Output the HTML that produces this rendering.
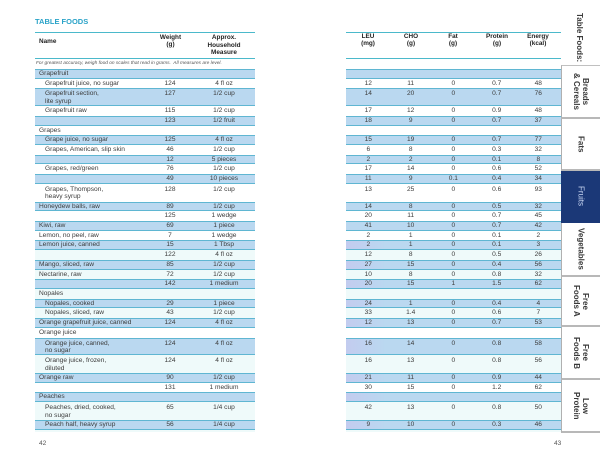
<!DOCTYPE html>
<html><head><meta charset="utf-8">
<style>
html,body{margin:0;padding:0;background:#fff;}
body{width:600px;height:461px;position:relative;overflow:hidden;font-family:"Liberation Sans",sans-serif;color:#3c3c3c;}
.a{position:absolute;white-space:nowrap;}
.tt{left:35px;top:17px;font-size:7.5px;font-weight:bold;color:#2aa3c8;line-height:10px;}
.ln{position:absolute;height:1.4px;background:#4bb9cb;}
.h{position:absolute;font-size:6.4px;font-weight:bold;color:#222;line-height:7.4px;text-align:center;white-space:nowrap;}
.note{left:36px;top:61px;font-size:4.8px;font-style:italic;color:#555;line-height:6px;}
.T{position:absolute;top:69px;}
.L{left:35px;width:220px;}
.R{left:346px;width:215px;}
.r{position:relative;height:9.72px;font-size:6.6px;}
.d{height:17.7px;}
.b{background:#bad8f0;box-shadow:inset 0 1px 0 #5fb6d2,inset 0 -1px 0 #5fb6d2;}
.p{background:linear-gradient(90deg,#c3ccef 0,#bad8f0 40px);}
.cy{background:#effafa;}
.r span{position:absolute;top:0;line-height:9.72px;white-space:nowrap;}
.d span{top:1.9px;line-height:7.6px;}
.n{left:4px;}
.n2{left:10px;}
.c{width:40px;margin-left:-20px;text-align:center;}
.w{left:135px;}
.m{left:189px;}
.c1{left:22.3px;}.c2{left:64.7px;}.c3{left:107.3px;}.c4{left:150.7px;}.c5{left:192.3px;}
.tab{position:absolute;left:561px;width:39px;background:#fff;border-left:1px solid #b0b0b0;border-bottom:2px solid #b8b8b8;box-sizing:border-box;display:flex;align-items:center;justify-content:center;}
.vt{writing-mode:vertical-rl;font-size:8px;font-weight:bold;color:#3a3a3a;line-height:9px;text-align:center;white-space:nowrap;}
.pg{font-size:6.6px;color:#555;line-height:8px;}
</style></head><body>

<div class="a tt">TABLE FOODS</div>
<div class="ln" style="left:35px;top:31.5px;width:220px;"></div>
<div class="ln" style="left:35px;top:57.6px;width:220px;"></div>
<div class="ln" style="left:346px;top:31.5px;width:215px;"></div>
<div class="ln" style="left:346px;top:57.6px;width:215px;"></div>

<div class="h" style="left:39px;top:38px;text-align:left;">Name</div>
<div class="h" style="left:150px;top:34px;width:41px;">Weight<br>(g)</div>
<div class="h" style="left:199px;top:34px;width:50px;line-height:7.5px;">Approx.<br>Household<br>Measure</div>
<div class="h" style="left:343px;top:34px;width:50px;line-height:6.9px;">LEU<br>(mg)</div>
<div class="h" style="left:386px;top:34px;width:50px;line-height:6.9px;">CHO<br>(g)</div>
<div class="h" style="left:428px;top:34px;width:50px;line-height:6.9px;">Fat<br>(g)</div>
<div class="h" style="left:472px;top:34px;width:50px;line-height:6.9px;">Protein<br>(g)</div>
<div class="h" style="left:513px;top:34px;width:50px;line-height:6.9px;">Energy<br>(kcal)</div>

<div class="a note">For greatest accuracy, weigh food on scales that read in grams.&nbsp; All measures are level.</div>

<!-- LEFT TABLE -->
<div class="T L">
<div class="r b"><span class="n">Grapefruit</span></div>
<div class="r"><span class="n2">Grapefruit juice, no sugar</span><span class="c w">124</span><span class="c m">4 fl oz</span></div>
<div class="r d b"><span class="n2">Grapefruit section,<br>lite syrup</span><span class="c w">127</span><span class="c m">1/2 cup</span></div>
<div class="r"><span class="n2">Grapefruit raw</span><span class="c w">115</span><span class="c m">1/2 cup</span></div>
<div class="r b"><span class="c w">123</span><span class="c m">1/2 fruit</span></div>
<div class="r"><span class="n">Grapes</span></div>
<div class="r b"><span class="n2">Grape juice, no sugar</span><span class="c w">125</span><span class="c m">4 fl oz</span></div>
<div class="r"><span class="n2">Grapes, American, slip skin</span><span class="c w">46</span><span class="c m">1/2 cup</span></div>
<div class="r b"><span class="c w">12</span><span class="c m">5 pieces</span></div>
<div class="r"><span class="n2">Grapes, red/green</span><span class="c w">76</span><span class="c m">1/2 cup</span></div>
<div class="r b"><span class="c w">49</span><span class="c m">10 pieces</span></div>
<div class="r d"><span class="n2">Grapes, Thompson,<br>heavy syrup</span><span class="c w">128</span><span class="c m">1/2 cup</span></div>
<div class="r b"><span class="n">Honeydew balls, raw</span><span class="c w">89</span><span class="c m">1/2 cup</span></div>
<div class="r"><span class="c w">125</span><span class="c m">1 wedge</span></div>
<div class="r b"><span class="n">Kiwi, raw</span><span class="c w">69</span><span class="c m">1 piece</span></div>
<div class="r"><span class="n">Lemon, no peel, raw</span><span class="c w">7</span><span class="c m">1 wedge</span></div>
<div class="r b"><span class="n">Lemon juice, canned</span><span class="c w">15</span><span class="c m">1 Tbsp</span></div>
<div class="r cy"><span class="c w">122</span><span class="c m">4 fl oz</span></div>
<div class="r b"><span class="n">Mango, sliced, raw</span><span class="c w">85</span><span class="c m">1/2 cup</span></div>
<div class="r cy"><span class="n">Nectarine, raw</span><span class="c w">72</span><span class="c m">1/2 cup</span></div>
<div class="r b"><span class="c w">142</span><span class="c m">1 medium</span></div>
<div class="r cy"><span class="n">Nopales</span></div>
<div class="r b"><span class="n2">Nopales, cooked</span><span class="c w">29</span><span class="c m">1 piece</span></div>
<div class="r cy"><span class="n2">Nopales, sliced, raw</span><span class="c w">43</span><span class="c m">1/2 cup</span></div>
<div class="r b"><span class="n">Orange grapefruit juice, canned</span><span class="c w">124</span><span class="c m">4 fl oz</span></div>
<div class="r"><span class="n">Orange juice</span></div>
<div class="r d b"><span class="n2">Orange juice, canned,<br>no sugar</span><span class="c w">124</span><span class="c m">4 fl oz</span></div>
<div class="r d cy"><span class="n2">Orange juice, frozen,<br>diluted</span><span class="c w">124</span><span class="c m">4 fl oz</span></div>
<div class="r b"><span class="n">Orange raw</span><span class="c w">90</span><span class="c m">1/2 cup</span></div>
<div class="r"><span class="c w">131</span><span class="c m">1 medium</span></div>
<div class="r b"><span class="n">Peaches</span></div>
<div class="r d cy"><span class="n2">Peaches, dried, cooked,<br>no sugar</span><span class="c w">65</span><span class="c m">1/4 cup</span></div>
<div class="r b"><span class="n2">Peach half, heavy syrup</span><span class="c w">56</span><span class="c m">1/4 cup</span></div>
<div style="height:2px;background:#effafa;"></div>
</div>

<!-- RIGHT TABLE -->
<div class="T R">
<div class="r b"></div>
<div class="r"><span class="c c1">12</span><span class="c c2">11</span><span class="c c3">0</span><span class="c c4">0.7</span><span class="c c5">48</span></div>
<div class="r d b"><span class="c c1">14</span><span class="c c2">20</span><span class="c c3">0</span><span class="c c4">0.7</span><span class="c c5">76</span></div>
<div class="r"><span class="c c1">17</span><span class="c c2">12</span><span class="c c3">0</span><span class="c c4">0.9</span><span class="c c5">48</span></div>
<div class="r b"><span class="c c1">18</span><span class="c c2">9</span><span class="c c3">0</span><span class="c c4">0.7</span><span class="c c5">37</span></div>
<div class="r"></div>
<div class="r b"><span class="c c1">15</span><span class="c c2">19</span><span class="c c3">0</span><span class="c c4">0.7</span><span class="c c5">77</span></div>
<div class="r"><span class="c c1">6</span><span class="c c2">8</span><span class="c c3">0</span><span class="c c4">0.3</span><span class="c c5">32</span></div>
<div class="r b"><span class="c c1">2</span><span class="c c2">2</span><span class="c c3">0</span><span class="c c4">0.1</span><span class="c c5">8</span></div>
<div class="r"><span class="c c1">17</span><span class="c c2">14</span><span class="c c3">0</span><span class="c c4">0.6</span><span class="c c5">52</span></div>
<div class="r b"><span class="c c1">11</span><span class="c c2">9</span><span class="c c3">0.1</span><span class="c c4">0.4</span><span class="c c5">34</span></div>
<div class="r d"><span class="c c1">13</span><span class="c c2">25</span><span class="c c3">0</span><span class="c c4">0.6</span><span class="c c5">93</span></div>
<div class="r b"><span class="c c1">14</span><span class="c c2">8</span><span class="c c3">0</span><span class="c c4">0.5</span><span class="c c5">32</span></div>
<div class="r"><span class="c c1">20</span><span class="c c2">11</span><span class="c c3">0</span><span class="c c4">0.7</span><span class="c c5">45</span></div>
<div class="r b"><span class="c c1">41</span><span class="c c2">10</span><span class="c c3">0</span><span class="c c4">0.7</span><span class="c c5">42</span></div>
<div class="r"><span class="c c1">2</span><span class="c c2">1</span><span class="c c3">0</span><span class="c c4">0.1</span><span class="c c5">2</span></div>
<div class="r b p"><span class="c c1">2</span><span class="c c2">1</span><span class="c c3">0</span><span class="c c4">0.1</span><span class="c c5">3</span></div>
<div class="r cy"><span class="c c1">12</span><span class="c c2">8</span><span class="c c3">0</span><span class="c c4">0.5</span><span class="c c5">26</span></div>
<div class="r b p"><span class="c c1">27</span><span class="c c2">15</span><span class="c c3">0</span><span class="c c4">0.4</span><span class="c c5">56</span></div>
<div class="r cy"><span class="c c1">10</span><span class="c c2">8</span><span class="c c3">0</span><span class="c c4">0.8</span><span class="c c5">32</span></div>
<div class="r b p"><span class="c c1">20</span><span class="c c2">15</span><span class="c c3">1</span><span class="c c4">1.5</span><span class="c c5">62</span></div>
<div class="r cy"></div>
<div class="r b p"><span class="c c1">24</span><span class="c c2">1</span><span class="c c3">0</span><span class="c c4">0.4</span><span class="c c5">4</span></div>
<div class="r cy"><span class="c c1">33</span><span class="c c2">1.4</span><span class="c c3">0</span><span class="c c4">0.6</span><span class="c c5">7</span></div>
<div class="r b p"><span class="c c1">12</span><span class="c c2">13</span><span class="c c3">0</span><span class="c c4">0.7</span><span class="c c5">53</span></div>
<div class="r"></div>
<div class="r d b p"><span class="c c1">16</span><span class="c c2">14</span><span class="c c3">0</span><span class="c c4">0.8</span><span class="c c5">58</span></div>
<div class="r d cy"><span class="c c1">16</span><span class="c c2">13</span><span class="c c3">0</span><span class="c c4">0.8</span><span class="c c5">56</span></div>
<div class="r b p"><span class="c c1">21</span><span class="c c2">11</span><span class="c c3">0</span><span class="c c4">0.9</span><span class="c c5">44</span></div>
<div class="r"><span class="c c1">30</span><span class="c c2">15</span><span class="c c3">0</span><span class="c c4">1.2</span><span class="c c5">62</span></div>
<div class="r b p"></div>
<div class="r d cy"><span class="c c1">42</span><span class="c c2">13</span><span class="c c3">0</span><span class="c c4">0.8</span><span class="c c5">50</span></div>
<div class="r b p"><span class="c c1">9</span><span class="c c2">10</span><span class="c c3">0</span><span class="c c4">0.3</span><span class="c c5">46</span></div>
<div style="height:2px;background:#effafa;"></div>
</div>

<!-- SIDEBAR -->
<div class="a vt" style="left:575px;top:13px;">Table Foods:</div>
<div class="tab" style="top:65px;height:54px;border-top:1px solid #c0c0c0;"><div class="vt">Breads<br>&amp; Cereals</div></div>
<div class="tab" style="top:119px;height:52px;"><div class="vt">Fats</div></div>
<div class="tab" style="top:171px;height:52px;background:#1b3877;border-color:#1b3877;"><div class="vt" style="color:#c9d6f2;font-weight:normal;">Fruits</div></div>
<div class="tab" style="top:223px;height:54px;"><div class="vt">Vegetables</div></div>
<div class="tab" style="top:277px;height:50px;"><div class="vt">Free<br>Foods A</div></div>
<div class="tab" style="top:327px;height:53px;"><div class="vt">Free<br>Foods B</div></div>
<div class="tab" style="top:380px;height:53px;"><div class="vt">Low<br>Protein</div></div>

<div class="a pg" style="left:39px;top:440px;">42</div>
<div class="a pg" style="left:554px;top:440px;">43</div>

</body></html>
